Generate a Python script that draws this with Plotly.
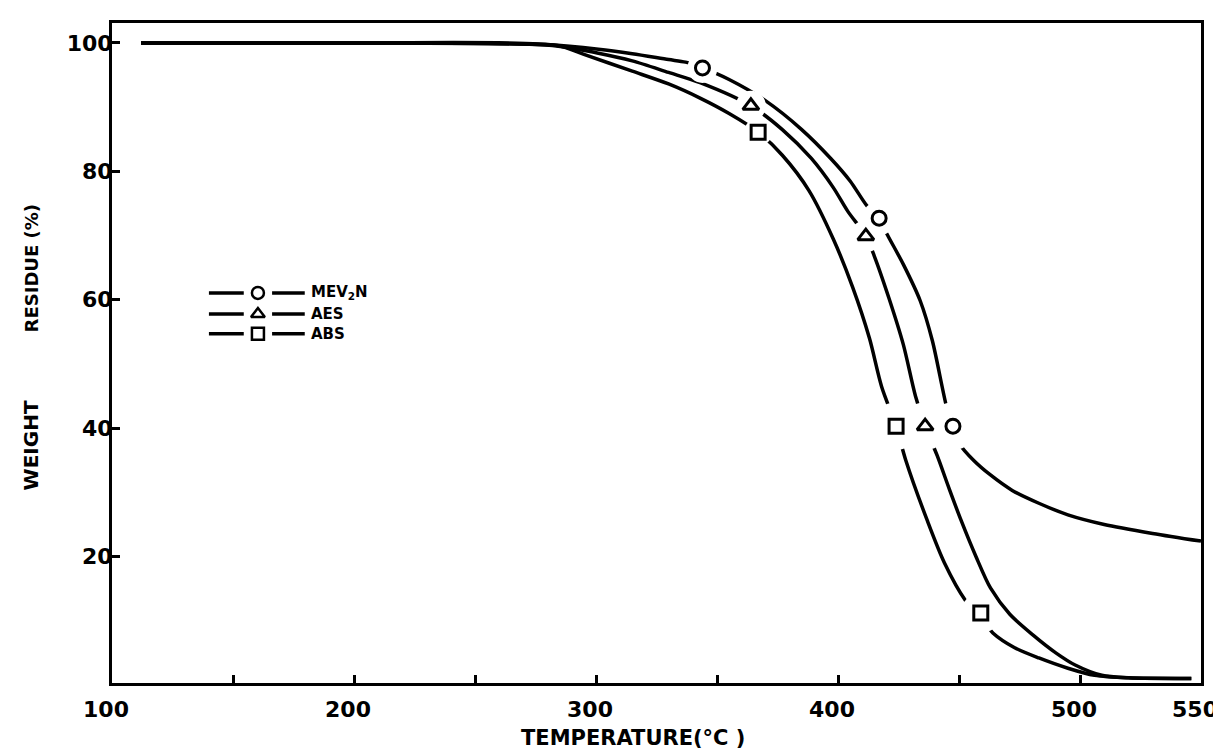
import plotly.graph_objects as go

# ---------------- data ----------------
mev_t = [112, 200, 280, 301, 315, 330, 337, 344, 355, 370, 385, 397, 405, 412, 417, 420, 427, 434, 439, 445, 447.5, 450.5, 456, 463, 472, 483, 495, 510, 530, 550]
mev_w = [100, 100, 99.7, 99.0, 98.3, 97.4, 97.0, 96.1, 94.3, 91.0, 86.5, 82.0, 78.5, 74.6, 72.7, 70.4, 65.5, 59.8, 53.6, 43.1, 40.3, 37.4, 35.0, 32.7, 30.3, 28.3, 26.5, 25.0, 23.6, 22.4]

aes_t = [112, 200, 282, 301, 315, 330, 343, 364, 377, 389, 398, 404, 411.5, 415, 421, 427, 432, 436, 441, 446, 451, 457, 463, 471, 480.5, 490, 498, 509, 520, 546]
aes_w = [100, 100, 99.6, 98.4, 97.2, 95.4, 93.8, 90.2, 86.5, 82.0, 77.5, 73.8, 69.9, 66.8, 60.3, 53.0, 45.0, 40.3, 35.7, 30.5, 25.5, 20.0, 15.1, 11.0, 7.8, 5.0, 3.1, 1.5, 1.1, 1.0]

abs_t = [112, 200, 284, 295, 315, 330, 343, 355, 367, 377, 388, 398, 406, 413, 418, 424, 428, 437, 444, 452.6, 459, 464, 473, 483, 495, 506, 520, 546]
abs_w = [100, 100, 99.6, 98.2, 95.6, 93.6, 91.4, 89.0, 86.1, 82.5, 77.0, 69.5, 62.0, 54.0, 46.5, 40.3, 35.0, 25.5, 19.0, 13.2, 10.5, 8.1, 5.8, 4.2, 2.6, 1.5, 1.1, 1.0]

# marker positions
mev_mt = [344, 417, 447.5]
mev_mw = [96.1, 72.7, 40.3]
aes_mt = [364, 411.5, 436]
aes_mw = [90.2, 69.9, 40.3]
abs_mt = [367, 424, 459]
abs_mw = [86.1, 40.3, 11.2]

series_names = ["MEV<sub>2</sub>N", "AES", "ABS"]
series_symbols = ["circle-open", "triangle-up-open", "square-open"]

x_tickvals = [100, 150, 200, 250, 300, 350, 400, 450, 500, 550]
x_ticktext = ["100", "", "200", "", "300", "", "400", "", "500", "550"]
y_tickvals = [20, 40, 60, 80, 100]
y_ticktext = ["20", "40", "60", "80", "100"]

# ---------------- figure ----------------
FONT = "DejaVu Sans"
fig = go.Figure()

curves = [(mev_t, mev_w), (aes_t, aes_w), (abs_t, abs_w)]
marks = [(mev_mt, mev_mw), (aes_mt, aes_mw), (abs_mt, abs_mw)]
halo_sizes = [[30, 34, 48], [30, 32, 48], [28, 48, 40]]

for (t, w) in curves:
    fig.add_trace(go.Scatter(x=t, y=w, mode="lines",
                             line=dict(color="black", width=3.5, shape="spline", smoothing=0.8),
                             showlegend=False, hoverinfo="skip"))

# white halos to open gaps in the curves around markers
for (mt, mw), hz in zip(marks, halo_sizes):
    fig.add_trace(go.Scatter(x=mt, y=mw, mode="markers",
                             marker=dict(symbol="circle", size=hz, color="white", opacity=1,
                                         line=dict(width=0)),
                             showlegend=False, hoverinfo="skip"))

for (mt, mw), s in zip(marks, series_symbols):
    fig.add_trace(go.Scatter(x=mt, y=mw, mode="markers",
                             marker=dict(symbol=s, size=14, color="black", opacity=1,
                                         line=dict(width=3, color="black")),
                             showlegend=False))

# ---- manual legend (overlay axes in 0..1 space) ----
leg_rows = [0.591, 0.559, 0.529]
leg_x_marker = 0.134
for yy, s, name in zip(leg_rows, series_symbols, series_names):
    fig.add_shape(type="line", xref="paper", yref="paper", x0=0.089, x1=0.121, y0=yy, y1=yy,
                  line=dict(color="black", width=3.5))
    fig.add_shape(type="line", xref="paper", yref="paper", x0=0.147, x1=0.177, y0=yy, y1=yy,
                  line=dict(color="black", width=3.5))
    fig.add_trace(go.Scatter(x=[leg_x_marker], y=[yy], xaxis="x2", yaxis="y2", mode="markers",
                             marker=dict(symbol=s, size=12, color="black", line=dict(width=2.5, color="black")),
                             showlegend=False, hoverinfo="skip"))
    fig.add_annotation(x=0.181, y=yy, xref="paper", yref="paper", text=name, showarrow=False,
                       xanchor="left", yanchor="middle",
                       font=dict(family=FONT, size=15, color="black", weight="bold"))

axis_common = dict(showline=True, linecolor="black", linewidth=3, mirror=True,
                   ticks="inside", ticklen=8, tickwidth=2.5, tickcolor="black",
                   showgrid=False, zeroline=False, automargin=False,
                   tickfont=dict(family=FONT, size=22, color="black", weight="bold"))

fig.update_layout(
    width=1221, height=756,
    margin=dict(l=104, r=28, t=15, b=81),
    paper_bgcolor="white", plot_bgcolor="white",
    xaxis=dict(range=[100, 550], tickmode="array", tickvals=x_tickvals, ticktext=x_ticktext,
               ticklabelstandoff=5, ticklabelshift=-6, **axis_common),
    yaxis=dict(range=[0.3, 103.1], tickmode="array", tickvals=y_tickvals, ticktext=y_ticktext,
               ticklabelstandoff=-8, **axis_common),
    xaxis2=dict(overlaying="x", range=[0, 1], visible=False),
    yaxis2=dict(overlaying="y", range=[0, 1], visible=False),
    showlegend=False,
)

# axis titles
fig.add_annotation(x=0.478, y=-0.083, xref="paper", yref="paper", text="TEMPERATURE(°C )",
                   showarrow=False, xanchor="center", yanchor="middle",
                   font=dict(family=FONT, size=21, color="black", weight="bold"))
fig.add_annotation(x=-0.074, y=(675 - 437) / 660, xref="paper", yref="paper", text="WEIGHT",
                   showarrow=False, textangle=-90, xanchor="center", yanchor="middle",
                   font=dict(family=FONT, size=20, color="black", weight="bold"))
fig.add_annotation(x=-0.074, y=(675 - 260) / 660, xref="paper", yref="paper", text="RESIDUE (%)",
                   showarrow=False, textangle=-90, xanchor="center", yanchor="middle",
                   font=dict(family=FONT, size=18, color="black", weight="bold"))

fig.write_html("out.html")
